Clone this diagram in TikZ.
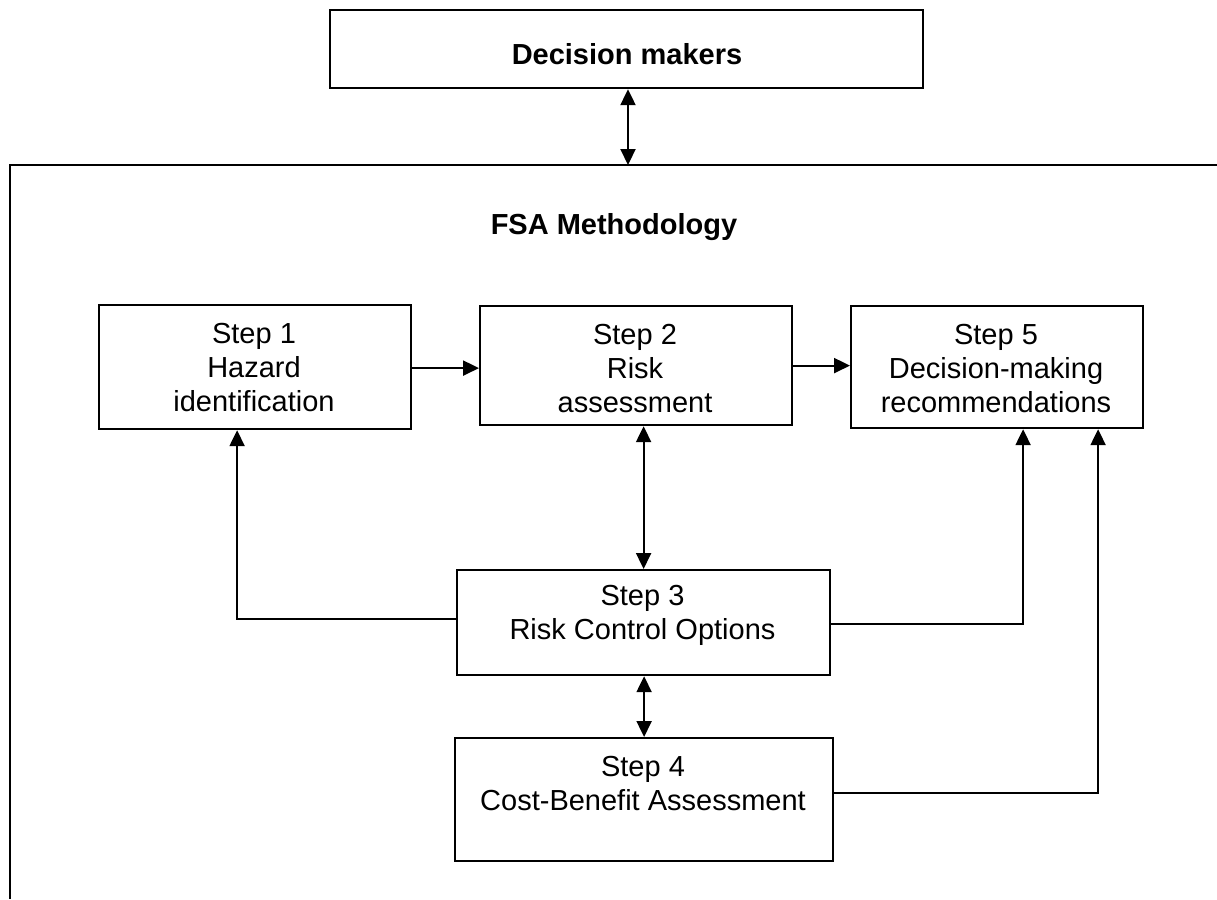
\documentclass[tikz,border=0pt]{standalone}
\usepackage{fontspec}
\setmainfont{Liberation Sans}
\usetikzlibrary{arrows.meta}
\begin{document}
\begin{tikzpicture}[x=1pt,y=-1pt,
  box/.style={draw, line width=2.2pt, inner sep=0pt, anchor=north west},
  txt/.style={align=center, font=\fontsize{29}{34}\selectfont, inner sep=0pt},
  btxt/.style={font=\fontsize{29}{34}\selectfont\bfseries, inner sep=0pt},
  conn/.style={line width=2.2pt, -{Triangle[length=16pt,width=15pt]}},
  biconn/.style={line width=2.2pt, {Triangle[length=16pt,width=15pt]}-{Triangle[length=16pt,width=15pt]}},
  frameline/.style={line width=2.5pt}]
\useasboundingbox (0,0) rectangle (1217,899);
% outer frame
\coordinate (fcorner) at (10,165);
\coordinate (ftop) at (628,165);
\coordinate (fright) at (1217,165);
\coordinate (fbottom) at (10,899);
\draw[frameline] (fright) -- (fcorner) -- (fbottom);
% boxes
\node[box, minimum width=593pt, minimum height=78pt] (dm) at (329,9) {};
\node[box, minimum width=312pt, minimum height=124pt] (s1) at (98,304) {};
\node[box, minimum width=312pt, minimum height=119pt] (s2) at (479,305) {};
\node[box, minimum width=292pt, minimum height=122pt] (s5) at (850,305) {};
\node[box, minimum width=373pt, minimum height=105pt] (s3) at (456,569) {};
\node[box, minimum width=378pt, minimum height=123pt] (s4) at (454,737) {};
% texts
\node[btxt] (tdm) at (627,54) {Decision makers};
\node[btxt] (tfsa) at (614,227) {FSA Methodology};
\node[txt] (t1) at (254,368) {Step 1\\Hazard\\identification};
\node[txt] (t2) at (635,369) {Step 2\\Risk\\assessment};
\node[txt] (t5) at (996,369) {Step 5\\Decision-making\\recommendations};
\node[txt] (t3) at (642.5,615) {Step 3\\Risk Control Options};
\node[txt] (t4) at (643,784) {Step 4\\Cost-Benefit Assessment};
% connectors
\draw[biconn] (dm.south -| ftop) -- (ftop);
\draw[conn] ([yshift=-1pt]s1.east) -- ([yshift=-1pt]s1.east -| s2.west);
\draw[conn] (s2.east) -- (s2.east -| s5.west);
\draw[biconn] (s3.north |- s2.south) -- (s3.north);
\draw[biconn] (s4.north |- s3.south) -- (s4.north);
\draw[conn] ([yshift=3.5pt]s3.west) -| ([xshift=-18pt]s1.south);
\draw[conn] ([yshift=-1.5pt]s3.east) -| ([xshift=26pt]s5.south);
\draw[conn] ([yshift=6.5pt]s4.east) -| ([xshift=101pt]s5.south);
\end{tikzpicture}
\end{document}
